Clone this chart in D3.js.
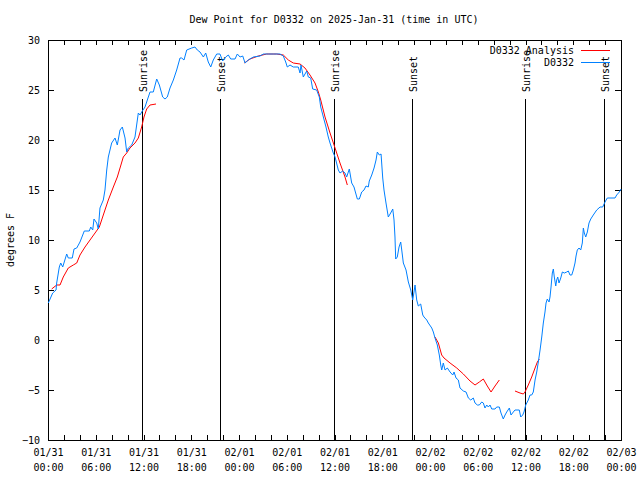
<!DOCTYPE html>
<html><head><meta charset="utf-8">
<script src="https://cdn.jsdelivr.net/npm/d3@7"></script>
<style>
body{margin:0;background:#fff}
svg{display:block}
text{font-family:"DejaVu Sans Mono","Liberation Mono",monospace;font-size:10px;fill:#000}
</style></head><body>
<svg id="c" width="640" height="480"></svg>
<script>
// ---------- data ----------
const title = "Dew Point for D0332 on 2025-Jan-31 (time in UTC)";
const yLabel = "degrees F";
const startUTC = Date.UTC(2025, 0, 31, 0, 0);
const spanHours = 72;
const yTicks = [-10, -5, 0, 5, 10, 15, 20, 25, 30];
const xMajorHours = [0, 6, 12, 18, 24, 30, 36, 42, 48, 54, 60, 66, 72];
const xMinorHours = [2, 4, 8, 10, 14, 16, 20, 22, 26, 28, 32, 34, 38, 40, 44, 46, 50, 52, 56, 58, 62, 64, 68, 70];
const seriesNames = ["D0332 Analysis", "D0332"];
const seriesColors = ["#ff0000", "#0080ff"];

const sunHours = [11.85, 21.65, 35.97, 45.77, 59.96, 69.81];
const sunLabels = ["Sunrise", "Sunset", "Sunrise", "Sunset", "Sunrise", "Sunset"];

// D0332 observations (hours after 01/31 00:00 UTC, deg F)
const obsHours = [0.04,0.59,1.01,1.09,1.42,1.60,1.85,2.35,2.55,3.05,
3.27,3.61,4.02,4.56,5.19,5.37,5.62,5.78,6.12,6.32,
6.53,6.95,7.16,7.38,7.58,8.00,8.42,8.71,9.05,9.34,
9.68,9.89,10.09,10.52,10.93,11.35,11.56,11.85,12.19,12.48,
12.82,13.23,13.66,13.99,14.41,14.70,14.99,15.33,15.75,16.17,
16.59,16.80,17.09,17.43,18.06,18.47,18.76,19.10,19.52,19.82,
20.14,20.45,20.77,21.20,21.61,21.95,22.33,22.66,22.96,23.50,
23.79,24.13,24.47,24.76,25.17,25.80,26.64,27.06,27.68,28.31,
29.15,29.57,29.87,30.07,30.41,30.82,31.45,31.67,31.79,32.08,
32.51,32.71,33.01,33.26,33.76,34.09,34.27,34.60,34.93,35.22,
35.44,35.85,36.07,36.48,36.69,37.03,37.32,37.53,37.86,38.16,
38.45,38.87,39.12,39.42,39.71,39.96,40.25,40.37,40.68,40.97,
41.22,41.38,41.63,41.85,42.06,42.22,42.47,42.76,43.06,43.32,
43.48,43.60,43.69,43.89,44.11,44.32,44.45,44.65,44.99,45.28,
45.58,45.83,45.99,46.12,46.33,46.53,46.83,47.09,47.25,47.59,
47.79,48.22,48.42,48.63,48.92,49.17,49.35,49.47,49.67,49.89,
50.18,50.52,50.86,51.02,51.27,51.56,51.77,52.19,52.53,52.82,
53.12,53.44,53.66,53.95,54.20,54.50,54.70,54.91,55.13,55.33,
55.54,55.76,56.17,56.38,56.71,56.92,57.21,57.43,57.64,57.97,
58.18,58.47,58.68,59.22,59.40,59.65,59.81,60.03,60.35,60.57,
60.78,60.98,61.20,61.41,61.61,61.83,62.04,62.24,62.45,62.58,
62.74,62.96,63.08,63.21,63.37,63.50,63.62,63.80,63.92,64.05,
64.21,64.43,64.63,64.88,65.18,65.38,65.59,65.81,66.01,66.22,
66.35,66.51,66.73,66.94,67.14,67.27,67.39,67.57,67.77,67.98,
68.20,68.52,68.95,69.37,69.70,69.99,70.28,71.25,71.46,71.79,
72.0];
const obsValues = [3.7,4.7,5.0,5.7,7.3,7.7,7.3,8.6,8.2,8.2,
9.1,9.2,9.8,10.9,10.9,11.3,11.0,12.1,11.7,11.1,
13.2,14.0,15.0,17.0,18.3,19.7,20.2,19.5,21.0,21.3,
20.2,18.8,19.2,19.5,20.3,22.7,22.5,22.9,23.3,24.0,
24.8,24.8,26.1,25.5,24.3,24.1,24.3,25.2,26.0,27.0,
28.2,28.2,28.0,29.0,29.2,29.3,29.0,28.8,28.3,28.7,
27.8,27.3,28.0,28.6,28.6,27.9,28.3,28.5,28.1,28.1,
28.6,28.3,28.4,27.7,28.0,28.3,28.4,28.6,28.6,28.6,
28.6,28.4,27.8,27.3,27.5,27.3,27.3,26.7,27.5,26.3,
26.9,26.3,26.2,25.1,25.0,24.3,23.3,22.3,21.3,20.3,
19.7,18.7,18.3,17.0,16.7,16.9,16.7,16.3,17.1,15.7,
15.3,14.1,14.1,14.8,15.0,15.4,15.3,15.9,16.5,17.2,
18.0,18.8,18.5,18.6,16.2,15.0,13.7,12.3,12.7,13.1,
12.0,10.3,8.1,8.3,9.3,9.8,9.0,7.7,7.0,5.8,
5.0,4.0,4.8,5.5,4.0,3.4,3.6,2.5,2.3,2.0,
1.7,1.2,0.8,0.2,-0.5,-1.5,-2.5,-3.0,-2.3,-3.0,
-2.8,-3.2,-3.5,-3.2,-3.8,-4.0,-4.8,-5.1,-5.2,-5.8,
-6.0,-5.8,-6.3,-6.5,-6.5,-6.2,-6.3,-6.8,-6.5,-6.7,
-6.5,-6.9,-6.9,-6.7,-6.7,-7.3,-7.9,-7.5,-7.2,-6.8,
-7.5,-7.2,-7.0,-7.0,-7.7,-7.5,-7.2,-6.5,-6.0,-5.5,
-5.5,-5.2,-4.0,-3.2,-2.2,-1.0,0.3,1.7,2.8,3.7,
4.1,3.8,4.3,5.3,6.7,7.1,6.3,5.4,6.0,6.3,
5.7,6.2,6.8,6.7,6.8,6.9,6.5,6.5,7.0,7.7,
8.4,9.0,9.2,9.0,9.7,11.2,10.7,10.3,10.8,11.7,
12.1,12.5,13.0,13.3,13.3,13.8,14.2,14.2,14.5,14.8,
15.1];

// D0332 Analysis (null = gap)
const anaHours = [0.46,1.09,1.51,1.92,2.55,3.18,3.61,4.02,4.65,5.28,
5.91,6.45,6.95,7.58,8.21,8.71,9.05,9.46,9.89,10.30,
10.93,11.35,11.77,12.06,12.40,12.82,13.57, null,
24.67,25.38,26.43,27.48,28.74,29.57,30.20,30.82,31.67,32.29,
32.92,33.55,33.97,34.27,34.81,35.44,36.07,36.69,37.32,37.61, null,
48.63,49.05,49.47,49.76,50.52,51.36,52.19,53.03,53.66,54.20,
54.70,55.20,55.67,56.17,56.71, null,
58.68,59.31,59.73,59.94,60.35,60.78,61.20,61.49,61.74];
const anaValues = [5.1,5.5,5.5,6.3,7.2,7.5,7.7,8.5,9.3,10.0,
10.7,11.3,12.5,14.0,15.3,16.3,17.2,18.3,18.7,19.2,
19.7,20.2,21.3,22.3,23.1,23.5,23.6, null,
27.7,28.1,28.4,28.6,28.6,28.5,28.0,27.7,27.6,27.2,
26.5,25.7,24.8,24.0,22.3,20.7,19.2,17.7,16.3,15.5, null,
0.3,-0.3,-1.5,-1.8,-2.3,-2.8,-3.4,-4.1,-4.5,-4.2,
-3.9,-4.6,-5.2,-4.6,-4.0, null,
-5.1,-5.3,-5.4,-5.2,-4.5,-3.7,-2.8,-2.2,-1.9];

// ---------- drawing ----------
const toDate = h => new Date(startUTC + h * 3600e3);
const L = 48, R = 621, T = 40, B = 440;
const svg = d3.select("#c");
const x = d3.scaleUtc().domain([toDate(0), toDate(spanHours)]).range([L, R]);
const y = d3.scaleLinear().domain([-10, 30]).range([B, T]);

// title
svg.append("text").attr("x", 334).attr("y", 23).attr("text-anchor", "middle").text(title);
// y label
svg.append("text").attr("transform", "translate(14,240) rotate(-90)")
  .attr("text-anchor", "middle").text(yLabel);

// axes
const crisp = g => { g.select(".domain").remove(); g.selectAll("line").attr("shape-rendering", "crispEdges").attr("stroke", "#000"); };
const fmtD = d3.utcFormat("%m/%d"), fmtT = d3.utcFormat("%H:%M");

const xb = svg.append("g").attr("transform", `translate(0,${B})`)
  .call(d3.axisBottom(x).tickValues(xMajorHours.map(toDate)).tickSize(-5).tickPadding(9).tickFormat(fmtD))
  .call(crisp);
xb.selectAll(".tick text").attr("font-family", null).attr("font-size", null)
  .each(function(d) {
    const t = d3.select(this);
    t.append("tspan").attr("x", 0).attr("dy", "1.5em").text(fmtT(d));
  });
svg.append("g").attr("transform", `translate(0,${B})`)
  .call(d3.axisBottom(x).tickValues(xMinorHours.map(toDate)).tickSize(-5).tickFormat(""))
  .call(crisp);
svg.append("g").attr("transform", `translate(0,${T})`)
  .call(d3.axisTop(x).tickValues(xMajorHours.concat(xMinorHours).map(toDate)).tickSize(-5).tickFormat(""))
  .call(crisp);
const yl = svg.append("g").attr("transform", `translate(${L},0)`)
  .call(d3.axisLeft(y).tickValues(yTicks).tickSize(-6).tickPadding(8).tickFormat(d3.format("d")))
  .call(crisp);
yl.selectAll(".tick text").attr("font-family", null).attr("font-size", null);
svg.append("g").attr("transform", `translate(${R},0)`)
  .call(d3.axisRight(y).tickValues(yTicks).tickSize(-6).tickFormat(""))
  .call(crisp);

// frame
svg.append("rect").attr("x", L + 0.5).attr("y", T + 0.5).attr("width", R - L).attr("height", B - T)
  .attr("fill", "none").attr("stroke", "#000").attr("shape-rendering", "crispEdges");

// sun lines
const sun = svg.append("g");
sunHours.forEach((h, i) => {
  const sx = Math.round(x(toDate(h))) + 0.5;
  sun.append("line").attr("x1", sx).attr("x2", sx).attr("y1", 99).attr("y2", B)
    .attr("stroke", "#000").attr("shape-rendering", "crispEdges");
  sun.append("text").attr("transform", `translate(${sx + 1},92) rotate(-90)`)
    .attr("dy", "0.35em").text(sunLabels[i]);
});

// series
const line = d3.line()
  .defined(d => d[0] !== null && d[1] !== null)
  .x(d => x(toDate(d[0]))).y(d => y(d[1]));
const anaData = anaHours.map((h, i) => [h, anaValues[i]]);
const obsData = obsHours.map((h, i) => [h, obsValues[i]]);
svg.append("path").datum(anaData).attr("d", line).attr("fill", "none")
  .attr("stroke", seriesColors[0]).attr("stroke-width", 1);
svg.append("path").datum(obsData).attr("d", line).attr("fill", "none")
  .attr("stroke", seriesColors[1]).attr("stroke-width", 1);

// legend
seriesNames.forEach((n, i) => {
  const ly = 50 + i * 12;
  svg.append("text").attr("x", 574).attr("y", ly).attr("dy", "0.35em").attr("text-anchor", "end").text(n);
  svg.append("line").attr("x1", 581).attr("x2", 610).attr("y1", ly + 0.5).attr("y2", ly + 0.5)
    .attr("stroke", seriesColors[i]).attr("shape-rendering", "crispEdges");
});
</script>
</body></html>
